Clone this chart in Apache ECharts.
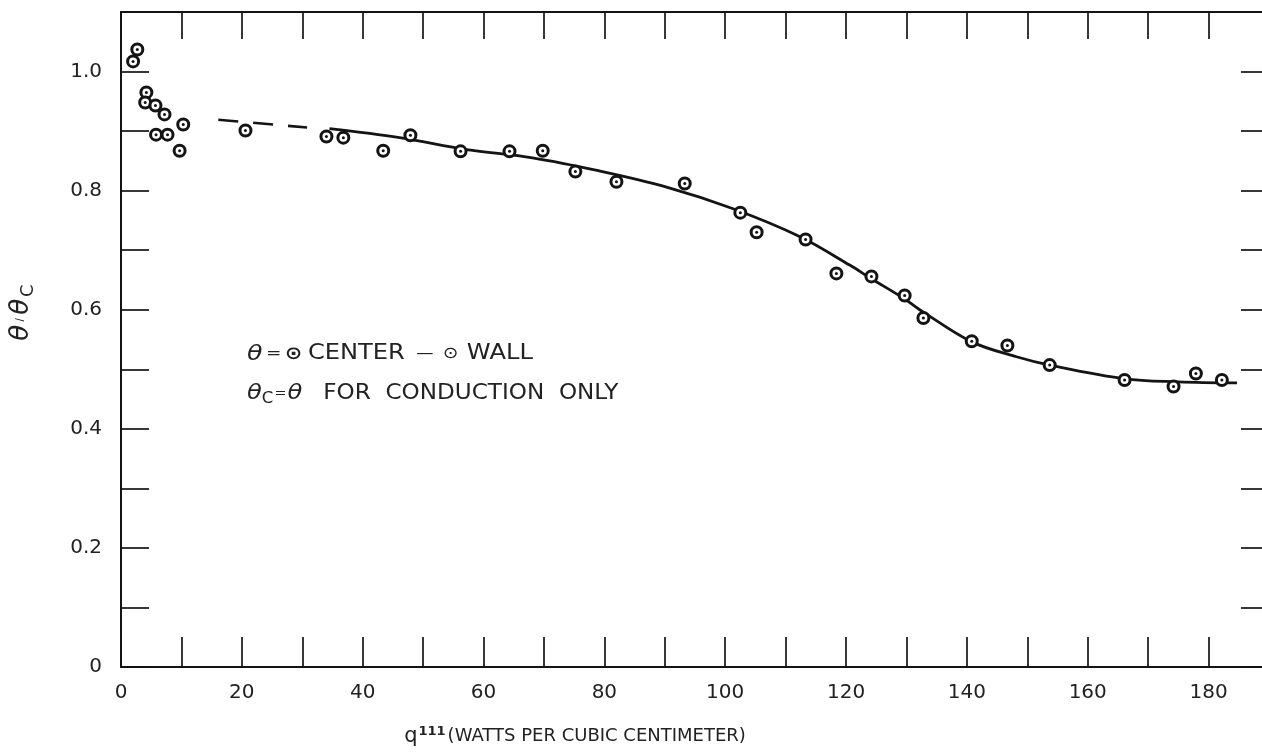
<!DOCTYPE html>
<html>
<head>
<meta charset="utf-8">
<script src="https://cdn.jsdelivr.net/npm/echarts@6/dist/echarts.min.js"></script>
<style>
html,body{margin:0;padding:0;background:#fff;}
#chart{width:1262px;height:753px;}
</style>
</head>
<body>
<div id="chart"></div>
<script>
// ---- data ----
const qValues = [2.0, 2.7, 4.2, 4.0, 5.7, 7.2, 5.8, 7.7, 10.3, 9.7, 20.6, 34.0, 36.8, 43.4, 47.9, 56.2, 64.3, 69.8, 75.2, 82.0, 93.3, 102.5, 105.2, 113.3, 118.4, 124.2, 129.7, 132.8, 140.8, 146.7, 153.7, 166.1, 174.2, 177.9, 182.2];
const ratioValues = [1.017, 1.037, 0.965, 0.948, 0.943, 0.928, 0.894, 0.894, 0.911, 0.867, 0.901, 0.891, 0.889, 0.867, 0.893, 0.866, 0.866, 0.867, 0.832, 0.815, 0.812, 0.763, 0.730, 0.718, 0.661, 0.656, 0.624, 0.586, 0.547, 0.540, 0.507, 0.482, 0.471, 0.493, 0.482];

const curveQ = [34.5, 46.1, 57.2, 68.1, 79.2, 90.3, 101.2, 112.3, 120.6, 124.2, 129.7, 132.8, 140.8, 148.2, 153.7, 166.1, 175.0, 184.7];
const curveRatio = [0.904, 0.889, 0.869, 0.855, 0.833, 0.806, 0.770, 0.723, 0.675, 0.652, 0.618, 0.596, 0.546, 0.521, 0.507, 0.484, 0.479, 0.477];

const dashQ = [16.1, 30.8];
const dashRatio = [0.919, 0.906];

const xTickLabels = ['0', '20', '40', '60', '80', '100', '120', '140', '160', '180'];
const yTickLabels = ['0', '0.2', '0.4', '0.6', '0.8', '1.0'];

const xLabelMap = {};
xTickLabels.forEach(l => { xLabelMap[Number(l)] = l; });
const yLabelMap = {};
yTickLabels.forEach(l => { yLabelMap[Math.round(Number(l) * 10)] = l; });

const pts = qValues.map((q, i) => [q, ratioValues[i]]);
const curve = curveQ.map((q, i) => [q, curveRatio[i]]);
const dash = dashQ.map((q, i) => [q, dashRatio[i]]);

const FONT = 'DejaVu Sans';
const INK = '#141414';
const TXT = '#222222';

const chart = echarts.init(document.getElementById('chart'), null, {renderer: 'canvas'});

const axisLineStyle = {color: INK, width: 2};
const tickStyle = {color: INK, width: 1.7};

chart.setOption({
  animation: false,
  backgroundColor: '#ffffff',
  grid: {left: 121, top: 12, width: 1148, height: 655, containLabel: false, outerBoundsMode: 'none'},
  xAxis: [
    {
      type: 'value', min: 0, max: 190, interval: 10, position: 'bottom',
      axisLine: {onZero: false, lineStyle: axisLineStyle},
      axisTick: {inside: true, length: 30, lineStyle: tickStyle},
      splitLine: {show: false},
      axisLabel: {
        formatter: v => (xLabelMap[Math.round(v)] !== undefined ? xLabelMap[Math.round(v)] : ''),
        fontFamily: FONT, fontSize: 20, color: TXT, margin: 16
      },
      name: '{q|q}{sup|111}{n|(WATTS PER CUBIC CENTIMETER)}',
      nameLocation: 'middle', nameGap: 58,
      nameTextStyle: {
        padding: [0, 240, 0, 0],
        rich: {
          q: {fontFamily: FONT, fontSize: 21, color: TXT},
          sup: {fontFamily: FONT, fontSize: 13, fontWeight: 'bold', color: TXT, verticalAlign: 'top', padding: [0, 2, 10, 1]},
          n: {fontFamily: FONT, fontSize: 18, color: TXT}
        }
      }
    },
    {
      type: 'value', min: 0, max: 190, interval: 10, position: 'top',
      axisLine: {onZero: false, lineStyle: axisLineStyle},
      axisTick: {inside: true, length: 27, lineStyle: tickStyle},
      axisLabel: {show: false},
      splitLine: {show: false}
    }
  ],
  yAxis: [
    {
      type: 'value', min: 0, max: 1.1, interval: 0.1, position: 'left',
      axisLine: {onZero: false, lineStyle: axisLineStyle},
      axisTick: {inside: true, length: 28, lineStyle: tickStyle},
      splitLine: {show: false},
      axisLabel: {
        formatter: v => {
          const k = Math.round(v * 10);
          return yLabelMap[k] !== undefined ? yLabelMap[k] : '';
        },
        fontFamily: FONT, fontSize: 20, color: TXT, margin: 19
      },
      name: '{t|θ} / {t|θ}{s|C}',
      nameLocation: 'middle', nameGap: 84, nameRotate: 90,
      nameTextStyle: {
        padding: [0, 0, 0, 54],
        rich: {
          t: {fontFamily: FONT, fontSize: 26, fontStyle: 'italic', color: TXT},
          s: {fontFamily: FONT, fontSize: 18, color: TXT, verticalAlign: 'bottom', padding: [14, 0, 0, 2]}
        }
      }
    },
    {
      type: 'value', min: 0, max: 1.1, interval: 0.1, position: 'right',
      axisLine: {onZero: false, lineStyle: axisLineStyle},
      axisTick: {inside: true, length: 28, lineStyle: tickStyle},
      axisLabel: {show: false},
      splitLine: {show: false}
    }
  ],
  graphic: [
    {
      type: 'text', x: 247, y: 343, scaleX: 1.15,
      style: {
        text: '{t|θ}{e|=}{c|⊙}{w|CENTER}{d|—}{o|⊙}{w|WALL}',
        fontFamily: FONT, fontSize: 21, fill: TXT,
        rich: {
          t: {fontFamily: FONT, fontSize: 22, fontStyle: 'italic', fill: TXT, padding: [0, 3, 0, 0]},
          e: {fontFamily: FONT, fontSize: 16, fill: TXT, padding: [0, 3, 0, 0]},
          c: {fontFamily: FONT, fontSize: 18, fontWeight: 'bold', fill: TXT, padding: [0, 5, 0, 0]},
          w: {fontFamily: FONT, fontSize: 21, fill: TXT},
          d: {fontFamily: FONT, fontSize: 15, fill: TXT, padding: [0, 8, 0, 10]},
          o: {fontFamily: FONT, fontSize: 16, fill: TXT, padding: [0, 7.5, 0, 0]}
        }
      }
    },
    {
      type: 'text', x: 247, y: 380, scaleX: 1.1,
      style: {
        text: '{t|θ}{s|C}{e|=}{u|θ}{w|FOR  CONDUCTION  ONLY}',
        fontFamily: FONT, fontSize: 21, fill: TXT,
        rich: {
          t: {fontFamily: FONT, fontSize: 22, fontStyle: 'italic', fill: TXT},
          s: {fontFamily: FONT, fontSize: 15, fill: TXT, verticalAlign: 'bottom', padding: [12, 0, 0, 0]},
          e: {fontFamily: FONT, fontSize: 13, fill: TXT, padding: [0, 1, 0, 1]},
          u: {fontFamily: FONT, fontSize: 22, fontStyle: 'italic', fill: TXT, padding: [0, 19, 0, 0]},
          w: {fontFamily: FONT, fontSize: 21, fill: TXT}
        }
      }
    }
  ],
  series: [
    {
      type: 'line', data: dash, showSymbol: false, silent: true, xAxisIndex: 0, yAxisIndex: 0,
      lineStyle: {color: INK, width: 2.6, type: [20, 15]}, z: 2
    },
    {
      type: 'line', data: curve, smooth: 0.35, showSymbol: false, silent: true, xAxisIndex: 0, yAxisIndex: 0,
      lineStyle: {color: INK, width: 2.8}, z: 2
    },
    {
      type: 'scatter', data: pts, symbol: 'circle', symbolSize: 11, xAxisIndex: 0, yAxisIndex: 0,
      itemStyle: {color: '#ffffff', borderColor: INK, borderWidth: 3, opacity: 1}, z: 3
    },
    {
      type: 'scatter', data: pts, symbol: 'circle', symbolSize: 3, xAxisIndex: 0, yAxisIndex: 0,
      itemStyle: {color: INK, opacity: 1}, z: 4
    }
  ]
});
</script>
</body>
</html>
